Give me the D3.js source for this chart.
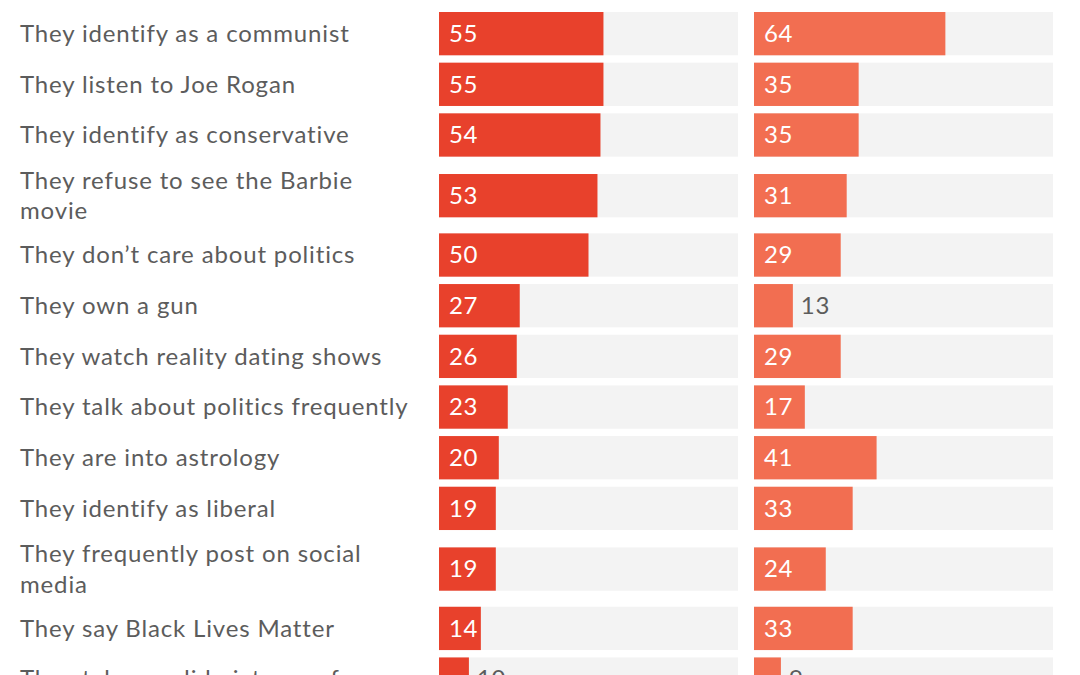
<!DOCTYPE html>
<html>
<head>
<meta charset="utf-8">
<script src="https://cdn.jsdelivr.net/npm/d3@7"></script>
<style>
  html, body { margin: 0; padding: 0; background: #fff; overflow: hidden; }
  svg { display: block; font-family: Lato, "Noto Sans", sans-serif; }
</style>
</head>
<body>
<div id="chart"></div>
<script>
// 数据
const labels = [
  "They identify as a communist",
  "They listen to Joe Rogan",
  "They identify as conservative",
  "They refuse to see the Barbie\nmovie",
  "They don’t care about politics",
  "They own a gun",
  "They watch reality dating shows",
  "They talk about politics frequently",
  "They are into astrology",
  "They identify as liberal",
  "They frequently post on social\nmedia",
  "They say Black Lives Matter",
  "They take candid pictures of you"
];
const leftValues = [55, 55, 54, 53, 50, 27, 26, 23, 20, 19, 19, 14, 10];
const rightValues = [64, 35, 35, 31, 29, 13, 29, 17, 41, 33, 24, 33, 9];

const W = 1080, H = 675;
const rowPitch = 50.67, barH = 43.3, extraLine = 18.7, lineOffset = 10;
const panelW = 299;
const panels = [
  { x0: 439, values: leftValues, color: "#e8412c" },
  { x0: 754, values: rightValues, color: "#f26e51" }
];

const svg = d3.select("#chart").append("svg").attr("width", W).attr("height", H);

// 行位置（多行标签的行更高）
const rows = [];
let rowTop = 12;
labels.forEach((label, i) => {
  const lines = label.split("\n");
  rows.push({ label, lines, i, barTop: rowTop + (lines.length - 1) * lineOffset });
  rowTop += rowPitch + (lines.length - 1) * extraLine;
});

const x = d3.scaleLinear().domain([0, 100]).range([0, panelW]);

// 标签
const lab = svg.append("g").selectAll("text").data(rows).join("text")
  .attr("x", 20)
  .attr("fill", "#5c5c5c")
  .attr("font-size", 24)
  .attr("letter-spacing", 0.85);
lab.each(function (d) {
  const t = d3.select(this);
  const lh = 30.7;
  const cy = d.barTop + barH / 2;
  const first = cy - ((d.lines.length - 1) * lh) / 2;
  d.lines.forEach((ln, k) => {
    t.append("tspan").attr("x", 20).attr("y", first + k * lh).attr("dy", "0.35em").text(ln);
  });
});

// 条形
panels.forEach((p) => {
  const g = svg.append("g").attr("transform", `translate(${p.x0},0)`);
  g.selectAll("rect.bg").data(rows).join("rect")
    .attr("class", "bg")
    .attr("x", 0).attr("y", (d) => d.barTop)
    .attr("width", x(100)).attr("height", barH)
    .attr("fill", "#f3f3f3");
  g.selectAll("rect.bar").data(rows).join("rect")
    .attr("class", "bar")
    .attr("x", 0).attr("y", (d) => d.barTop)
    .attr("width", (d) => x(p.values[d.i])).attr("height", barH)
    .attr("fill", p.color);
  g.selectAll("text.val").data(rows).join("text")
    .attr("class", "val")
    .attr("x", (d) => (p.values[d.i] >= 14 ? 10 : x(p.values[d.i]) + 8))
    .attr("y", (d) => d.barTop + barH / 2)
    .attr("dy", "0.35em")
    .attr("font-size", 24)
    .attr("letter-spacing", 0.6)
    .attr("fill", (d) => (p.values[d.i] >= 14 ? "#fff" : "#5c5c5c"))
    .text((d) => p.values[d.i]);
});
</script>
</body>
</html>
